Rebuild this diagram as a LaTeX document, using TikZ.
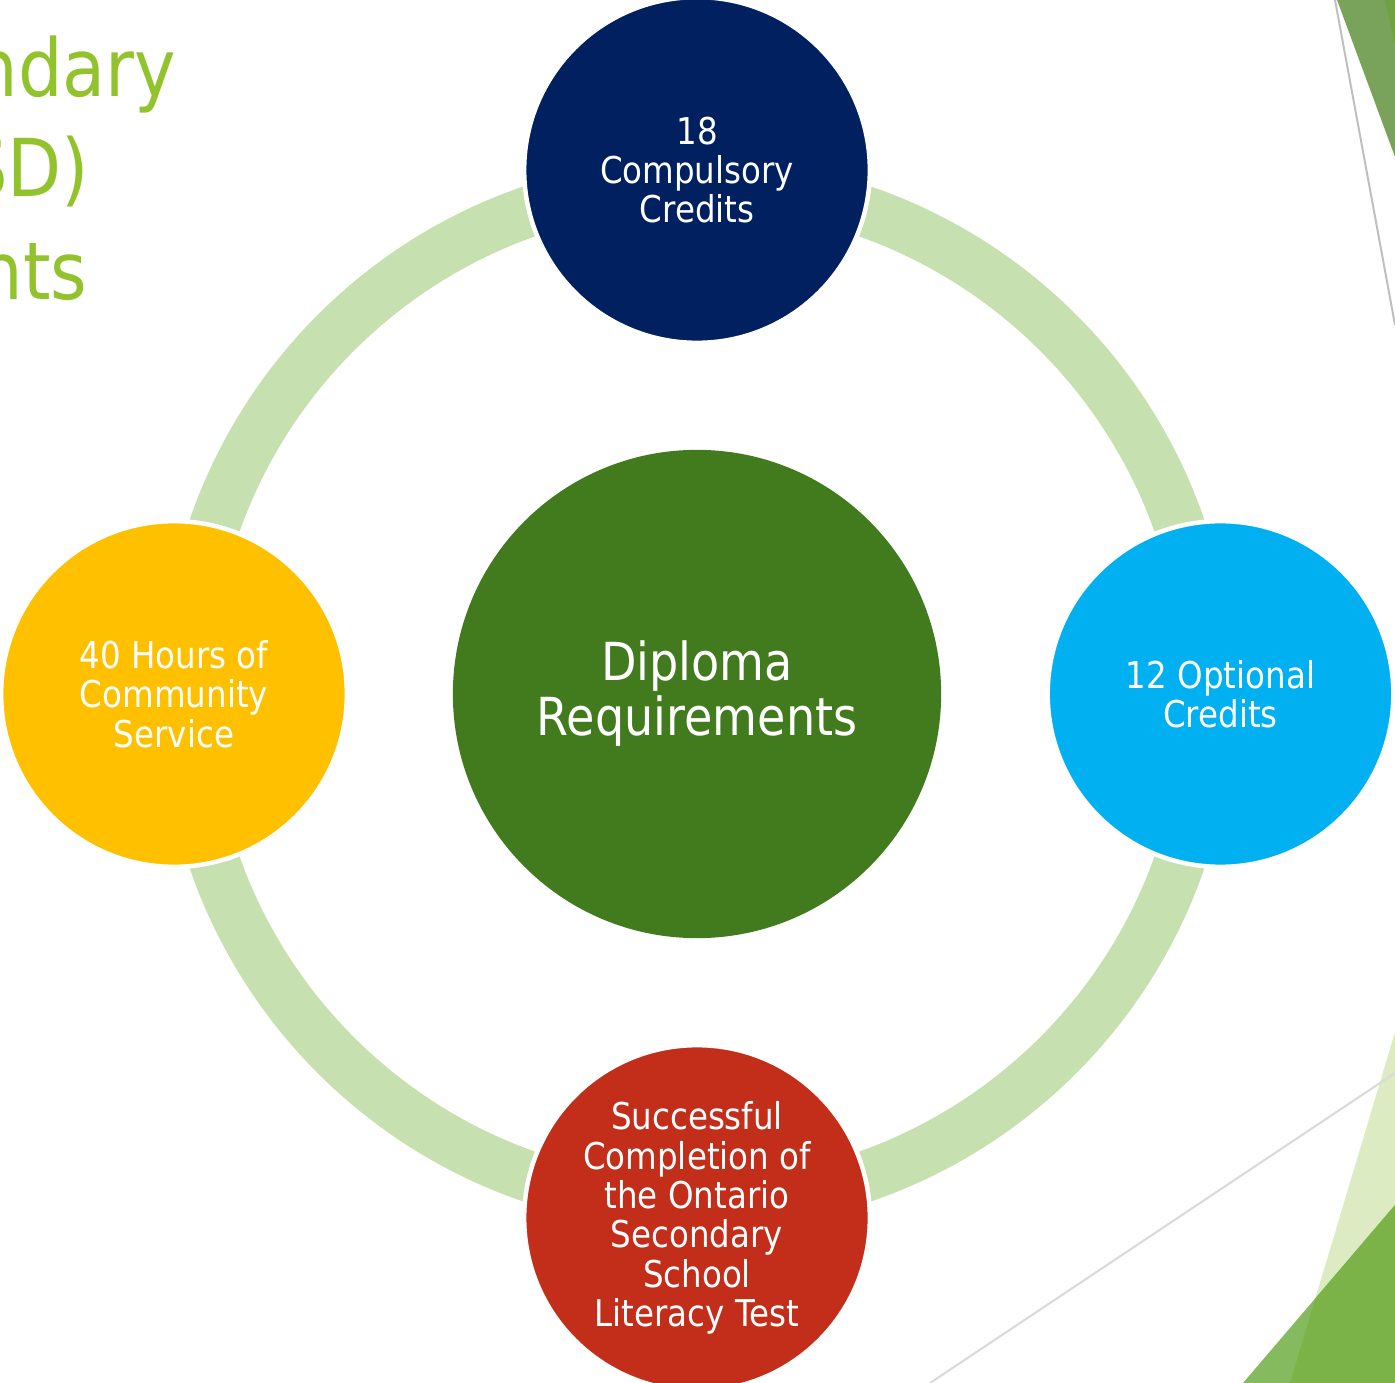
\documentclass[tikz,border=0pt]{standalone}
\usepackage{fontspec}
\setmainfont[FakeStretch=0.88]{DejaVu Sans}

\definecolor{navyblue}{HTML}{002060}
\definecolor{skyblue}{HTML}{00B0F0}
\definecolor{brickred}{HTML}{C32E1A}
\definecolor{amber}{HTML}{FFC000}
\definecolor{leafgreen}{HTML}{427A1E}
\definecolor{ringgreen}{HTML}{C7E0B0}
\definecolor{titlegreen}{HTML}{92C32C}
\definecolor{mossgreen}{HTML}{79A35B}
\definecolor{grassgreen}{HTML}{7CB349}
\definecolor{lightgrass}{HTML}{85BA5E}
\definecolor{palegreen}{HTML}{DDEBC3}

\begin{document}
\begin{tikzpicture}[x=0.01cm, y=-0.01cm,
        sat/.style={circle, minimum size=3.455cm, inner sep=0pt, draw=white,
            line width=0.045cm, text=white, align=center,
            font=\fontsize{10.5}{11.2}\selectfont},
        ring/.style={draw=ringgreen, line width=0.51cm},
        titletext/.style={anchor=base east, inner sep=0pt, text=titlegreen,
            font=\fontsize{22.7}{28.7}\selectfont}]
    \useasboundingbox (0,0) rectangle (1395,1383);
    \clip (0,0) rectangle (1395,1383);

    % corner decoration
    \fill[mossgreen] (1337,0) -- (1395,0) -- (1395,157) -- cycle;
    \fill[grassgreen!90!black] (1385,0) -- (1395,0) -- (1395,45) -- cycle;
    \draw[black!25, line width=0.02cm] (1335,0) -- (1395,325);
    \fill[palegreen] (1395,1032) -- (1290,1383) -- (1395,1383) -- cycle;
    \fill[lightgrass] (1243,1383) -- (1395,1205) -- (1395,1383) -- cycle;
    \fill[grassgreen] (1315.4,1298.3) -- (1290,1383) -- (1395,1383) -- (1395,1205) -- cycle;
    \draw[black!15, line width=0.02cm] (930,1383) -- (1395,1073);

    % title
    \node[titletext] (title1) at (177,97) {ndary};
    \node[titletext] (title2) at (90,197) {SD)};
    \node[titletext] (title3) at (88,300) {nts};

    % ring and circles
    \coordinate (M) at (697,694);
    \draw[ring] (M) circle[radius=5.105cm];

    \node[circle, fill=leafgreen, minimum size=4.88cm, inner sep=0pt, text=white,
        align=center, font=\fontsize{14.9}{15.65}\selectfont] (diploma) at (M)
        {Diploma\\Requirements};
    \node[sat, fill=navyblue] (compulsory) at (697,170) {18\\Compulsory\\Credits};
    \node[sat, fill=skyblue] (optional) at (1220.5,694) {12 Optional\\Credits};
    \node[sat, fill=brickred] (literacy) at (697,1218)
        {Successful\\Completion of\\the Ontario\\Secondary\\School\\Literacy Test};
    \node[sat, fill=amber] (community) at (174,694) {40 Hours of\\Community\\Service};
\end{tikzpicture}
\end{document}
